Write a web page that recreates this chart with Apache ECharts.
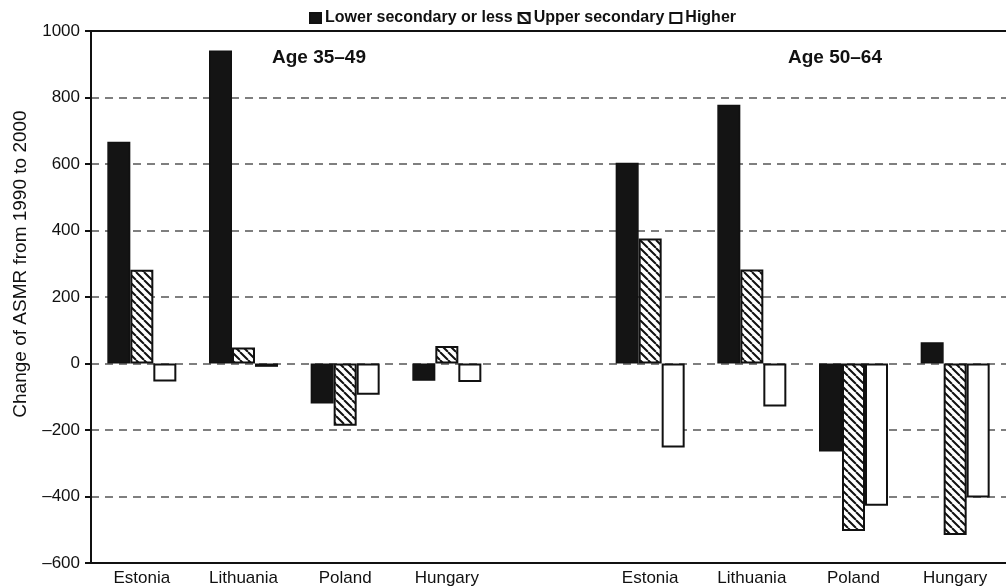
<!DOCTYPE html>
<html>
<head>
<meta charset="utf-8">
<script src="https://cdn.jsdelivr.net/npm/echarts@6/dist/echarts.min.js"></script>
<style>
  html, body { margin: 0; padding: 0; background: #fff; }
  #chart { width: 1006px; height: 588px; }
</style>
</head>
<body>
<div id="chart"></div>
<script>
// Change of age-standardised mortality rate (ASMR), 1990 to 2000, by education
const countries = ['Estonia', 'Lithuania', 'Poland', 'Hungary'];
const ageGroups = ['Age 35–49', 'Age 50–64'];
const seriesNames = ['Lower secondary or less', 'Upper secondary', 'Higher'];

// values per age group, in country order
const lower35 = [667, 941, -120, -52];
const upper35 = [282, 48, -187, 53];
const higher35 = [-54, -10, -94, -56];
const lower50 = [604, 778, -265, 64];
const upper50 = [376, 283, -504, -516];
const higher50 = [-253, -129, -428, -403];

const yTicks = { min: -600, max: 1000, interval: 200 };

// category slots: four countries, an empty spacer, four countries
const categories = [
  ...countries.map(c => c + '|35'),
  'gap',
  ...countries.map(c => c + '|50')
];
const join = (a, b) => [...a, null, ...b];
const lowerData = join(lower35, lower50);
const upperData = join(upper35, upper50);
const higherData = join(higher35, higher50);

// diagonal hatch fill
function hatch() {
  const s = 8;
  const c = document.createElement('canvas');
  c.width = s; c.height = s;
  const g = c.getContext('2d');
  g.fillStyle = '#fff';
  g.fillRect(0, 0, s, s);
  g.strokeStyle = '#111';
  g.lineWidth = 2;
  g.beginPath();
  for (const o of [-s, 0, s]) {
    g.moveTo(o, 0);
    g.lineTo(o + s, s);
  }
  g.stroke();
  return c;
}

const chart = echarts.init(document.getElementById('chart'), null, { renderer: 'canvas' });
const font = 'Liberation Sans, Arial, Helvetica, sans-serif';

const barBase = { type: 'bar', barWidth: 23, barGap: '0%', animation: false };
const tickText = v => (v < 0 ? '\u2013' + Math.abs(v) : String(v));

chart.setOption({
  backgroundColor: '#fff',
  textStyle: { fontFamily: font },
  legend: {
    left: 304, top: 5,
    icon: 'rect',
    itemWidth: 11, itemHeight: 10, itemGap: 5,
    textStyle: { fontFamily: font, fontSize: 16, fontWeight: 'bold', color: '#111', padding: [0, 0, 0, -1] },
    data: seriesNames
  },
  grid: { left: 91, top: 31, bottom: 25, width: 925 },
  xAxis: [
    {
      type: 'category',
      data: categories,
      position: 'bottom',
      axisLine: { onZero: false, lineStyle: { color: '#111', width: 2 } },
      axisTick: { show: false },
      axisLabel: {
        margin: 7, fontSize: 17, color: '#111', fontFamily: font,
        interval: 0,
        formatter: v => (v === 'gap' ? '' : v.split('|')[0])
      },
      splitLine: { show: false }
    },
    {
      // top frame line
      type: 'category',
      data: categories,
      position: 'top',
      axisLine: { onZero: false, lineStyle: { color: '#111', width: 2 } },
      axisTick: { show: false },
      axisLabel: { show: false },
      splitLine: { show: false }
    }
  ],
  yAxis: {
    type: 'value',
    min: yTicks.min, max: yTicks.max, interval: yTicks.interval,
    axisLine: { show: true, lineStyle: { color: '#111', width: 2 } },
    axisTick: { show: true, length: 6, lineStyle: { color: '#111', width: 2 } },
    axisLabel: { margin: 11, fontSize: 17, color: '#111', fontFamily: font, formatter: tickText },
    splitLine: { show: true, lineStyle: { color: '#555', width: 1.5, type: [8, 6] } }
  },
  graphic: [
    {
      type: 'text', x: 21, y: 264, rotation: Math.PI / 2,
      style: {
        text: 'Change of ASMR from 1990 to 2000',
        fontFamily: font, fontSize: 19, fill: '#111',
        align: 'center', verticalAlign: 'middle'
      }
    },
    {
      type: 'text', x: 272, y: 58,
      style: { text: ageGroups[0], fontFamily: font, fontSize: 19, fontWeight: 'bold', fill: '#111', align: 'left', verticalAlign: 'middle' }
    },
    {
      type: 'text', x: 788, y: 58,
      style: { text: ageGroups[1], fontFamily: font, fontSize: 19, fontWeight: 'bold', fill: '#111', align: 'left', verticalAlign: 'middle' }
    }
  ],
  series: [
    Object.assign({}, barBase, {
      name: seriesNames[0], data: lowerData,
      itemStyle: { color: '#141414', borderColor: '#111', borderWidth: 1.5 }
    }),
    Object.assign({}, barBase, {
      name: seriesNames[1], data: upperData,
      itemStyle: { color: { image: hatch(), repeat: 'repeat' }, borderColor: '#111', borderWidth: 2 }
    }),
    Object.assign({}, barBase, {
      name: seriesNames[2], data: higherData,
      itemStyle: { color: '#fff', borderColor: '#111', borderWidth: 2 }
    })
  ]
});
</script>
</body>
</html>
